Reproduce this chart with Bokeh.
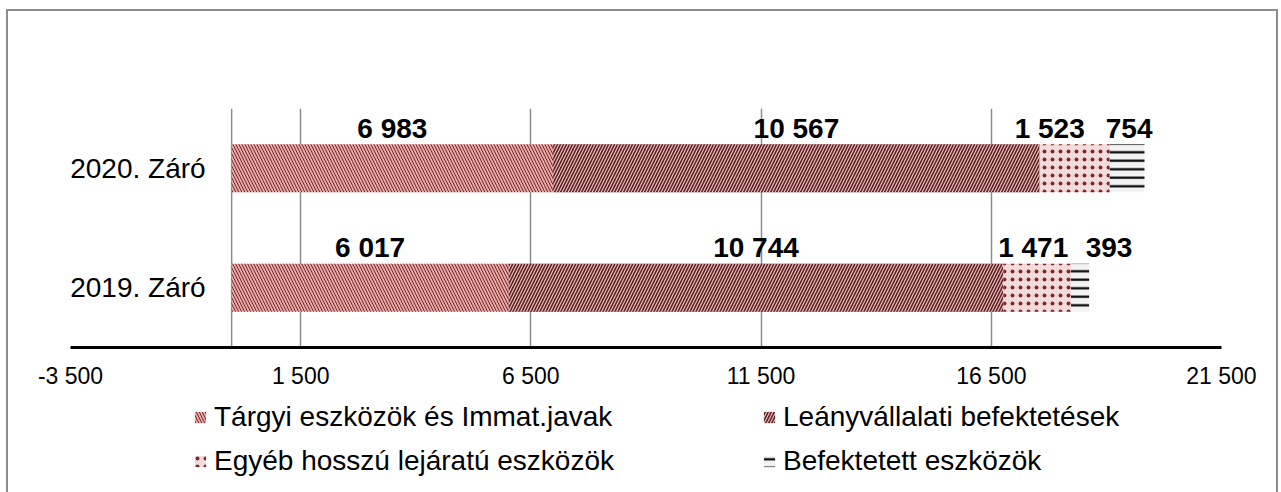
import numpy as np
from bokeh.plotting import figure
from bokeh.layouts import column
from bokeh.models import ColumnDataSource, Range1d, FixedTicker, Span, Legend, LegendItem
from bokeh.core.properties import value
from bokeh.embed import file_html
from bokeh.resources import INLINE

# ---- data ----
categories = ["2019. Záró", "2020. Záró"]
series_names = [
    "Tárgyi eszközök és Immat.javak",
    "Leányvállalati befektetések",
    "Egyéb hosszú lejáratú eszközök",
    "Befektetett eszközök",
]
targyi = [6017, 6983]
leanyvallalati = [10744, 10567]
egyeb = [1471, 1523]
befektetett = [393, 754]
x_ticks = [-3500, 1500, 6500, 11500, 16500, 21500]

# ---- styles ----
FONT = "Liberation Sans"
GRID = "#8C8C8C"
series_styles = [
    dict(fill_color="#E6A7A6", hatch_pattern="left_diagonal_line", hatch_color="#6E2424",
         hatch_scale=6, hatch_weight=0.95),
    dict(fill_color="#5E1F1F", hatch_pattern="right_diagonal_line", hatch_color="#E8C0BF",
         hatch_scale=6, hatch_weight=1.2),
    dict(fill_color="#F2DCDB", hatch_pattern="dot", hatch_color="#7F2A2A",
         hatch_scale=8, hatch_weight=1.0),
    dict(fill_color="#F2F2F2", hatch_pattern="horizontal_line", hatch_color="#000000",
         hatch_scale=8.5, hatch_weight=2.2),
]
# horizontal nudges (px) of the value labels, per series, per category
label_nudge = [[0, 0], [0, 0], [-4, -25], [29, 2]]
BAR_H = 0.4
W = 1268


def fmt(v):
    return f"{int(v):,}".replace(",", " ")


p = figure(
    frame_width=1151, frame_height=239,
    min_border_left=62, min_border_right=W - 62 - 1151, min_border_top=97, min_border_bottom=50,
    x_range=Range1d(-3500, 21500), y_range=Range1d(-0.5, 1.5),
    output_backend="svg", toolbar_location=None,
)
p.outline_line_color = None
p.background_fill_color = "white"
p.border_fill_color = "white"

# grid / axes
p.ygrid.visible = False
p.yaxis.visible = False
p.xgrid.ticker = FixedTicker(ticks=x_ticks)
p.xgrid.grid_line_color = GRID
p.xgrid.grid_line_width = 1.5
p.xaxis.ticker = FixedTicker(ticks=x_ticks)
p.xaxis.major_label_overrides = {t: fmt(t) for t in x_ticks}
p.xaxis.axis_line_color = "black"
p.xaxis.axis_line_width = 3
p.xaxis.major_tick_line_color = None
p.xaxis.minor_tick_line_color = None
p.xaxis.major_label_text_font = FONT
p.xaxis.major_label_text_font_size = "23px"
p.xaxis.major_label_text_color = "black"
p.xaxis.major_label_standoff = 9

zero = Span(location=0, dimension="height", line_color=GRID, line_width=1.5, level="underlay")
p.add_layout(zero)

ys = np.arange(len(categories), dtype=float)
left = np.zeros(len(categories))
for name, vals, st, nudge in zip(series_names,
                                 [targyi, leanyvallalati, egyeb, befektetett],
                                 series_styles, label_nudge):
    vals = np.array(vals, dtype=float)
    right = left + vals
    src = ColumnDataSource(dict(
        y=ys, left=left, right=right, mid=(left + right) / 2, top=ys + BAR_H / 2,
        lab=[fmt(v) for v in vals], dx=nudge,
    ))
    p.hbar(y="y", left="left", right="right", height=BAR_H, source=src,
           line_color=None, **st)
    p.text(x="mid", y="top", text="lab", x_offset="dx", y_offset=-16, source=src,
           text_font=value(FONT), text_font_style="bold", text_font_size="28px",
           text_color="black", text_align="center", text_baseline="alphabetic")
    left = right

# category labels
p.text(x=0, y=ys, text=categories, x_offset=-26, y_offset=0,
       text_font=value(FONT), text_font_size="28px", text_color="black",
       text_align="right", text_baseline="alphabetic")

# ---- legend strip (own figure so it is not clipped) ----
pl = figure(width=W, height=95, min_border=0, x_axis_type=None, y_axis_type=None,
            x_range=Range1d(0, 1), y_range=Range1d(0, 1),
            output_backend="svg", toolbar_location=None)
pl.outline_line_color = None
pl.grid.visible = False
pl.background_fill_color = "white"
pl.border_fill_color = "white"
# swatch-only renderers (a single zero-width bar outside the visible range)
swatch = ColumnDataSource(dict(y=[-5.0], left=[0.0], right=[0.0]))
leg_r = [pl.hbar(y="y", left="left", right="right", height=1, source=swatch,
                 line_color=None, **st) for st in series_styles]

rows = [[0, 1], [2, 3]]
row_y = [59, 15]
for idxs, vy in zip(rows, row_y):
    lg = Legend(items=[LegendItem(label=series_names[i], renderers=[leg_r[i]]) for i in idxs],
                location=(123, vy), orientation="horizontal")
    lg.label_text_font = FONT
    lg.label_text_font_size = "28px"
    lg.label_text_color = "black"
    lg.glyph_width = 14
    lg.glyph_height = 14
    lg.label_standoff = 7
    lg.label_width = 535
    lg.spacing = 13
    lg.padding = 0
    lg.margin = 0
    lg.border_line_color = None
    lg.background_fill_alpha = 0
    pl.add_layout(lg, "center")

layout = column(p, pl, spacing=0)
layout.styles = {
    "margin-top": "9px",
    "margin-left": "6px",
    "border-top": "2px solid #8C8C8C",
    "border-left": "2px solid #8C8C8C",
    "border-right": "2px solid #8C8C8C",
}

open("out.html", "w").write(file_html(layout, INLINE))
